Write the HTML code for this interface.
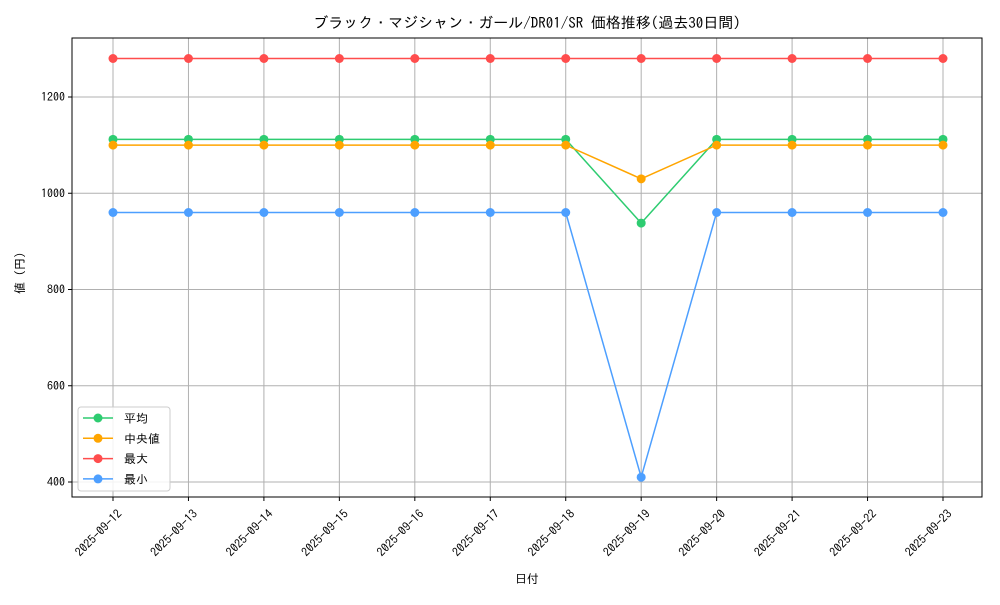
<!DOCTYPE html>
<html><head><meta charset="utf-8"><style>
body{margin:0;background:#fff;}
svg text{font-family:"IPAGothic","Noto Sans CJK JP",sans-serif;fill:#000;}
</style></head><body>
<svg id="chart" width="1000" height="600" xmlns="http://www.w3.org/2000/svg">
<text x="527" y="28" font-size="15" text-anchor="middle">ブラック・マジシャン・ガール/DR01/SR 価格推移(過去30日間)</text>
<text x="527" y="583" font-size="12" text-anchor="middle">日付</text>
<text transform="translate(24,270) rotate(-90)" font-size="12" text-anchor="middle">値（円）</text>
<g id="grid"></g><g id="series"></g><g id="axes"></g>
</svg>
<script>
const dates=["2025-09-12","2025-09-13","2025-09-14","2025-09-15","2025-09-16","2025-09-17","2025-09-18","2025-09-19","2025-09-20","2025-09-21","2025-09-22","2025-09-23"];
const avgVals=[1112,1112,1112,1112,1112,1112,1112,938,1112,1112,1112,1112];
const medVals=[1100,1100,1100,1100,1100,1100,1100,1030,1100,1100,1100,1100];
const maxVals=[1280,1280,1280,1280,1280,1280,1280,1280,1280,1280,1280,1280];
const minVals=[960,960,960,960,960,960,960,410,960,960,960,960];
const yTicks=[400,600,800,1000,1200];
const seriesNames=["平均","中央値","最大","最小"];
const NS="http://www.w3.org/2000/svg";
const L=72,R=982,T=38,B=497;
const xs=i=>113+i*(943-113)/(dates.length-1);
const ys=v=>482-(v-400)*(385/800);
function mk(tag,attrs,parent){const e=document.createElementNS(NS,tag);for(const k in attrs)e.setAttribute(k,attrs[k]);parent.appendChild(e);return e;}
const grid=document.getElementById('grid'),ser=document.getElementById('series'),ax=document.getElementById('axes');
dates.forEach((d,i)=>{
 const g=mk('line',{x1:xs(i),x2:xs(i),y1:T,y2:B,stroke:'#b0b0b0','stroke-width':1},grid);
 
 
 mk('line',{x1:xs(i),x2:xs(i),y1:B,y2:B+4,stroke:'#000'},ax);
 const t=mk('text',{transform:`translate(${xs(i)+4},${B+12}) rotate(-45)`,'font-size':12,'text-anchor':'end','dominant-baseline':'hanging'},ax);
 t.textContent=d;
 
 
});
yTicks.forEach(v=>{
 const g=mk('line',{x1:L,x2:R,y1:ys(v),y2:ys(v),stroke:'#b0b0b0','stroke-width':1},grid);
 
 
 mk('line',{x1:L-4,x2:L,y1:ys(v),y2:ys(v),stroke:'#000'},ax);
 const t=mk('text',{x:L-7,y:ys(v)+4,'font-size':12,'text-anchor':'end'},ax);
 t.textContent=v;
 
 
});
const fr=mk('rect',{x:L,y:T,width:R-L,height:B-T,fill:'none',stroke:'#000','stroke-width':1},ax);


const data=[avgVals,medVals,maxVals,minVals];
const colors=['#2ecc71','#ffa500','#ff4d4d','#4d9fff'];
const keys=['average','median','max','min'];
data.forEach((vals,s)=>{
 const g=mk('g',{},ser);
 
 
 const p=mk('polyline',{points:vals.map((v,i)=>xs(i)+','+ys(v)).join(' '),fill:'none',stroke:colors[s],'stroke-width':1.5},g);
 
 
 vals.forEach((v,i)=>{
  const c=mk('circle',{cx:xs(i),cy:ys(v),r:4.5,fill:colors[s]},g);
  
  
 });
});
const lg=mk('g',{},ax);


mk('rect',{x:78,y:407,width:92,height:84,rx:3,fill:'#fff','fill-opacity':0.85,stroke:'#ccc'},lg);
seriesNames.forEach((n,s)=>{
 const y=418+s*20.3;
 const e=mk('g',{},lg);
 
 
 mk('line',{x1:83,x2:113,y1:y,y2:y,stroke:colors[s],'stroke-width':1.5},e);
 mk('circle',{cx:98,cy:y,r:4.5,fill:colors[s]},e);
 const t=mk('text',{x:124,y:y+4.5,'font-size':12},e);
 t.textContent=n;
});
</script>
</body></html>
